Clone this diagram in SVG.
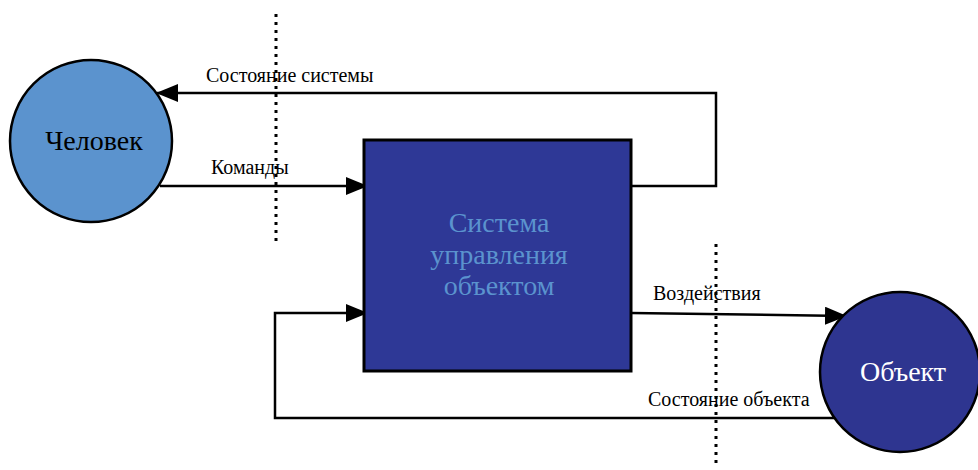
<svg xmlns="http://www.w3.org/2000/svg" width="978" height="470" viewBox="0 0 978 470">
<defs>
<marker id="ah" markerWidth="22" markerHeight="18" refX="21" refY="9" orient="auto" markerUnits="userSpaceOnUse">
<path d="M0,0 L22,9 L0,18 Z" fill="#000"/>
</marker>
<style>
text{font-family:'Liberation Serif','Times New Roman',serif;}
.lbl{font-size:20px;fill:#000;}
.big{font-size:28px;}
.ln{fill:none;stroke:#000;stroke-width:2.5;}
.dot{fill:none;stroke:#000;stroke-width:3;stroke-dasharray:3 5;}
</style>
</defs>
<rect width="978" height="470" fill="#fff"/>
<g id="separators">
<line class="dot" x1="276" y1="14" x2="276" y2="243"/>
<line class="dot" x1="716" y1="244" x2="716" y2="468"/>
</g>
<g id="connectors">
<polyline class="ln" points="631,186 716,186 716,93 157,93" marker-end="url(#ah)"/>
<line class="ln" x1="160" y1="186" x2="367" y2="186" marker-end="url(#ah)"/>
<polyline class="ln" points="834,418 275,418 275,313 367,313" marker-end="url(#ah)"/>
<line class="ln" x1="631" y1="313" x2="846" y2="316" marker-end="url(#ah)"/>
</g>
<g id="labels">
<text class="lbl" x="206" y="82">Состояние системы</text>
<text class="lbl" x="211" y="174">Команды</text>
<text class="lbl" x="653" y="300">Воздействия</text>
<text class="lbl" x="648" y="406">Состояние объекта</text>
</g>
<g id="node-human">
<circle cx="91" cy="141" r="81" fill="#5B93CE" stroke="#000" stroke-width="2.5"/>
<text class="big" x="94" y="150" text-anchor="middle" fill="#000">Человек</text>
</g>
<g id="node-system">
<rect x="364" y="140" width="267" height="231" fill="#2E3896" stroke="#000" stroke-width="3"/>
<text class="big" x="499" y="232" text-anchor="middle" fill="#5B93CE">Система</text>
<text class="big" x="499" y="264" text-anchor="middle" fill="#5B93CE">управления</text>
<text class="big" x="499" y="295" text-anchor="middle" fill="#5B93CE">объектом</text>
</g>
<g id="node-object">
<circle cx="900" cy="372" r="80" fill="#2E3590" stroke="#000" stroke-width="2.5"/>
<text class="big" x="903" y="381" text-anchor="middle" fill="#fff">Объект</text>
</g>
</svg>
